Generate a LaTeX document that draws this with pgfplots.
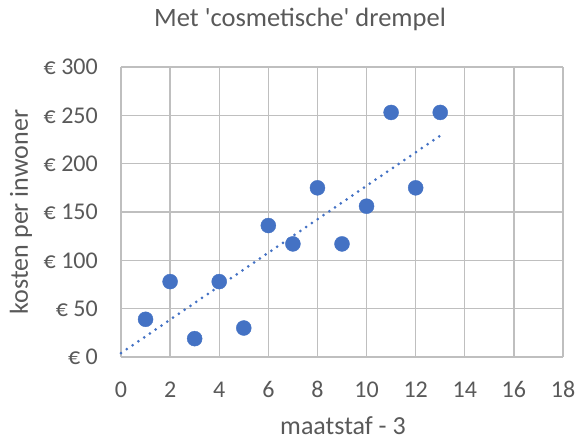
\documentclass[border=0pt]{standalone}
\usepackage{pgfplots}
\pgfplotsset{compat=1.18}
\usepackage{fontspec}
\setmainfont{Carlito}
\definecolor{txt}{HTML}{595959}
\definecolor{gridc}{HTML}{BFBFBF}
\definecolor{dots}{HTML}{4472C4}
\begin{document}
\begin{tikzpicture}
\path[use as bounding box] (-121pt,-83pt) rectangle (460pt,357pt);
\begin{axis}[
    at={(0pt,0pt)}, anchor=south west,
    scale only axis,
    width=442pt, height=290pt,
    xmin=0, xmax=18, ymin=0, ymax=300,
    xtick={0,2,...,18},
    ytick={0,50,...,300},
    yticklabel={€ \pgfmathprintnumber{\tick}},
    /pgf/number format/assume math mode=true,
    major tick length=0pt,
    grid=major,
    major grid style={gridc, line width=1.3pt},
    axis line style={draw=none},
    tick label style={font=\fontsize{24}{28}\selectfont, text=txt, inner sep=0pt},
    xticklabel style={anchor=base, yshift=-40pt},
    yticklabel style={anchor=east, xshift=-23pt},
    clip=false,
]
\addplot[only marks, mark=*, mark size=7.5pt, mark options={draw=dots, fill=dots}]
coordinates {
    (1,39) (2,78) (3,19) (4,78) (5,30) (6,136) (7,117)
    (8,175) (9,117) (10,156) (11,253) (12,175) (13,253)
};
% trendline endpoints
\addplot[dots, line width=3pt, line cap=round, dash pattern=on 0pt off 7pt]
coordinates {(0,4) (13,229)};
\end{axis}
\node[text=txt, font=\fontsize{26.5}{30}\selectfont, anchor=base, inner sep=0pt] at (179pt,330pt) {Met \textquotesingle cosmetische\textquotesingle{} drempel};
\node[text=txt, font=\fontsize{26}{30}\selectfont, rotate=90, inner sep=0pt] at (-100pt,145pt) {kosten per inwoner};
\node[text=txt, font=\fontsize{26}{30}\selectfont, anchor=base, inner sep=0pt] at (222pt,-77pt) {maatstaf - 3};
\end{tikzpicture}
\end{document}
